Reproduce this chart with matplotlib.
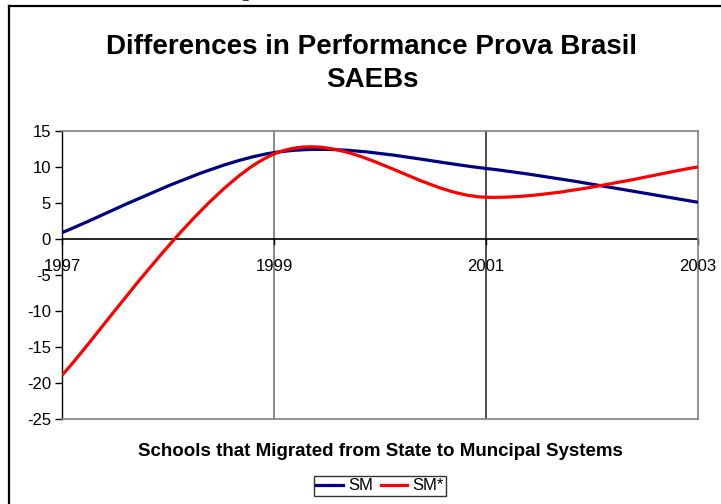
import matplotlib
matplotlib.use("Agg")
import matplotlib.pyplot as plt
from matplotlib.path import Path
from matplotlib.patches import PathPatch
from matplotlib.lines import Line2D
import numpy as np

plt.rcParams['font.family'] = ['Liberation Sans', 'DejaVu Sans']

years = [1997, 1999, 2001, 2003]
sm = [0.9, 12.0, 9.8, 5.1]
sm_star = [-18.9, 11.8, 5.8, 10.0]
series_names = ["SM", "SM*"]
colors = ["#000080", "#FF0000"]
yticks = [15, 10, 5, 0, -5, -10, -15, -20, -25]

W, H = 721, 504
fig = plt.figure(figsize=(W / 100, H / 100), dpi=100)
ax = fig.add_axes([62 / W, (H - 419) / H, (698 - 62) / W, (419 - 131) / H])


def smooth_path(xs, ys):
    xs = np.asarray(xs, float)
    ys = np.asarray(ys, float)
    n = len(xs)
    verts = [(xs[0], ys[0])]
    codes = [Path.MOVETO]
    for i in range(n - 1):
        i0 = max(i - 1, 0)
        i3 = min(i + 2, n - 1)
        c1 = (xs[i] + (xs[i + 1] - xs[i0]) / 6, ys[i] + (ys[i + 1] - ys[i0]) / 6)
        c2 = (xs[i + 1] - (xs[i3] - xs[i]) / 6, ys[i + 1] - (ys[i3] - ys[i]) / 6)
        verts += [c1, c2, (xs[i + 1], ys[i + 1])]
        codes += [Path.CURVE4] * 3
    return Path(verts, codes)


for vals, col in zip([sm, sm_star], colors):
    p = PathPatch(smooth_path(years, vals), fill=False, edgecolor=col, lw=2.3,
                  capstyle='butt', joinstyle='round', zorder=3)
    ax.add_patch(p)

ax.set_xlim(years[0], years[-1])
ax.set_ylim(-25, 15)
ax.set_yticks(yticks)
ax.set_yticklabels([str(v) for v in yticks], fontsize=12)
ax.tick_params(axis='y', direction='out', length=5, width=1, pad=3, colors='black')
ax.set_xticks([])

# vertical gridlines at categories
for yr, gc in zip(years[1:-1], ["#808080", "#404040"]):
    ax.axvline(yr, color=gc, lw=1.3, zorder=1)

# zero axis line with category ticks and labels
ax.axhline(0, color='black', lw=1.2, zorder=2)
for yr in years:
    ax.plot([yr, yr], [0, -0.7], color='black', lw=1, zorder=2, clip_on=False)
    ax.text(yr, -3.85, str(yr), ha='center', va='center', fontsize=12, zorder=4)

for s in ['top', 'right', 'bottom']:
    ax.spines[s].set_color('#808080')
    ax.spines[s].set_linewidth(1.2)
ax.spines['left'].set_color('black')
ax.spines['left'].set_linewidth(1)

fig.text(372 / W, 1 - 47 / H, "Differences in Performance Prova Brasil",
         ha='center', va='center', fontsize=20, fontweight='bold')
fig.text(372 / W, 1 - 80 / H, "SAEBs",
         ha='center', va='center', fontsize=20, fontweight='bold')
fig.text(380 / W, 1 - 451 / H, "Schools that Migrated from State to Muncipal Systems",
         ha='center', va='center', fontsize=13.5, fontweight='bold')

handles = [Line2D([], [], color=c, lw=2.3) for c in colors]
leg = fig.legend(handles, series_names, loc='center', bbox_to_anchor=(380 / W, 1 - 486 / H),
                 ncol=2, fontsize=12, frameon=True, fancybox=False, edgecolor='black',
                 handlelength=1.6, handletextpad=0.3, columnspacing=0.45, borderpad=0.15,
                 borderaxespad=0, handleheight=0.6)
leg.get_frame().set_linewidth(1)

# outer frame (top and left edges visible)
fig.add_artist(Line2D([8.5 / W, 1], [1 - 5.5 / H, 1 - 5.5 / H], color='black', lw=1.6,
                      transform=fig.transFigure))
fig.add_artist(Line2D([8.5 / W, 8.5 / W], [0, 1 - 5.5 / H], color='black', lw=1.6,
                      transform=fig.transFigure))
# fragment of text above the frame
fig.text(245 / W, 1 + 3 / H, "g", ha='center', va='baseline', fontsize=14,
         family='Liberation Serif')

fig.savefig("out.png", dpi=100)
